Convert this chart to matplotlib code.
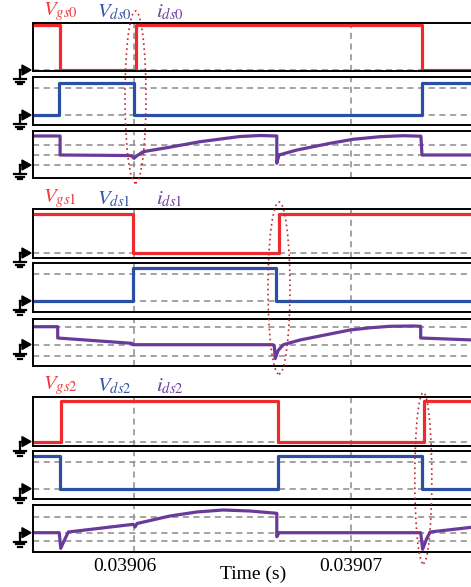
import matplotlib
matplotlib.use('Agg')
import matplotlib.pyplot as plt
import matplotlib.transforms as mtransforms
from matplotlib.patches import Ellipse, Polygon
from matplotlib.lines import Line2D

plt.rcParams['font.family'] = ['Liberation Serif', 'DejaVu Serif']
plt.rcParams['mathtext.fontset'] = 'stix'

# time axis in microseconds after 0.03906 s
xticks = [0, 10]
xtick_labels = ['0.03906', '0.03907']
t_start, t_end = -4.66, 15.9

# gate / drain-source voltages (steps-post, normalised)
vgs0_t = [-4.66, -3.41, 0.09, 13.28, 15.9]
vgs0_v = [1, 0, 1, 0, 0]
vds0_t = [-4.66, -3.45, 0.01, 13.28, 15.9]
vds0_v = [0, 1.2, 0, 1.2, 1.2]

vgs1_t = [-4.66, -0.03, 6.70, 15.9]
vgs1_v = [1, 0, 1, 1]
vds1_t = [-4.66, -0.06, 6.55, 15.9]
vds1_v = [0, 1.2, 0, 0]

vgs2_t = [-4.66, -3.37, 6.63, 13.38, 15.9]
vgs2_v = [0, 1, 0, 1, 1]
vds2_t = [-4.66, -3.41, 6.63, 13.30, 15.9]
vds2_v = [1.2, 0, 1.2, 0, 0]

# drain currents
ids0_t = [-4.66, -3.41, -3.41, -0.28, -0.09, 0.00, 0.09, 0.42, 1.52, 3.05, 4.89,
          5.82, 6.59, 6.59, 6.69, 7.52, 9.05, 10.11, 11.35, 12.41, 13.24, 13.29, 15.9]
ids0_v = [2.9, 2.9, 1.0, 0.95, 0.9, 0.67, 0.85, 1.33, 1.73, 2.33, 2.85,
          2.95, 2.9, 0.17, 1.0, 1.5, 2.17, 2.57, 2.83, 2.93, 2.88, 1.0, 1.0]

ids1_t = [-4.66, -3.52, -3.52, -0.11, -0.05, 6.40, 6.47, 6.52, 6.65, 6.89, 7.66,
          8.81, 9.97, 10.89, 11.81, 12.88, 13.23, 13.23, 15.9]
ids1_v = [1.78, 1.78, 0.65, 0.12, -0.02, -0.02, -0.1, -1.4, -0.6, -0.02, 0.45,
          0.95, 1.45, 1.67, 1.82, 1.85, 1.82, 0.65, 0.43]

ids2_t = [-4.66, -3.45, -3.38, -3.23, -3.03, -0.03, 0.05, 0.14, 1.66, 2.89, 4.11,
          5.35, 6.59, 6.59, 6.69, 13.23, 13.32, 13.48, 13.66, 15.9]
ids2_v = [0, 0, -1.56, -0.83, 0.07, 0.84, 0.57, 0.92, 1.67, 2.07, 2.27,
          2.17, 1.94, -0.4, 0, 0, -1.66, -0.73, 0.07, 0.62]

RED = '#EE2A2E'
BLUE = '#2B4FA5'
PURPLE = '#6A3A9B'

W, H = 471, 587
fig = plt.figure(figsize=(W / 100, H / 100), dpi=100)

x_left = 33
x_right = 478

# (top px, bottom px, t, v, style, color, ylim, grid levels)
panels = [
    (23, 71, vgs0_t, vgs0_v, 'steps-post', RED, (-0.022, 1.044), [0]),
    (77, 125, vds0_t, vds0_v, 'steps-post', BLUE, (-0.37, 1.41), [0, 1]),
    (131, 178.3, ids0_t, ids0_v, 'default', PURPLE, (-1.33, 3.4), [0, 1, 2]),
    (209, 258, vgs1_t, vgs1_v, 'steps-post', RED, (-0.128, 1.128), [0]),
    (263, 312, vds1_t, vds1_v, 'steps-post', BLUE, (-0.41, 1.40), [0, 1]),
    (318.7, 365.7, ids1_t, ids1_v, 'default', PURPLE, (-2.12, 2.58), [1.72, 0, -1.12]),
    (397, 446, vgs2_t, vgs2_v, 'steps-post', RED, (-0.11, 1.11), [0]),
    (451, 499, vds2_t, vds2_v, 'steps-post', BLUE, (-0.38, 1.39), [0, 1]),
    (505.3, 552.3, ids2_t, ids2_v, 'default', PURPLE, (-1.96, 2.74), [1.6, 0, -0.8]),
]

xlim_right = (x_right - 134) / 21.67

axes = []
for top, bot, t, v, ds, col, ylim, grid in panels:
    ax = fig.add_axes([x_left / W, 1 - bot / H, (x_right - x_left) / W, (bot - top) / H])
    ax.plot(t, v, drawstyle=ds, color=col, lw=2.3)
    ax.set_xlim(t_start, xlim_right)
    ax.set_ylim(*ylim)
    for g in grid:
        ax.axhline(g, color='#8a8a8a', lw=1.1, ls=(0, (4, 3)), zorder=0)
    for xt in xticks:
        ax.axvline(xt, color='#8a8a8a', lw=1.1, ls=(0, (4, 3)), zorder=0)
    ax.set_yticks([])
    ax.set_xticks([])
    for s in ax.spines.values():
        s.set_linewidth(1.4)
    axes.append(ax)

# bottom time axis labels
ax_b = axes[-1]
ax_b.set_xticks(xticks)
ax_b.set_xticklabels(xtick_labels, fontsize=14)
ax_b.tick_params(axis='x', length=0, pad=4)
shift = mtransforms.ScaledTranslation(-9 / 100, 0, fig.dpi_scale_trans)
lbl0 = ax_b.get_xticklabels()[0]
lbl0.set_transform(lbl0.get_transform() + shift)
fig.text(253 / W, 1 - 574 / H, 'Time (s)', fontsize=14, ha='center', va='center')

# signal names above each group
names = [('0', 12), ('1', 199), ('2', 386)]
for idx, y in names:
    fig.text(43 / W, 1 - y / H, r'$V_{gs%s}$' % idx, color='#EE3A3D', fontsize=15, va='center')
    fig.text(97 / W, 1 - y / H, r'$V_{ds%s}$' % idx, color='#3556A8', fontsize=15, va='center')
    fig.text(156 / W, 1 - y / H, r'$i_{ds%s}$' % idx, color='#6E3E9E', fontsize=15, va='center')

# ground markers at the zero level of every panel
for ax in axes:
    x0, y0 = ax.transData.transform((t_start, 0))
    def P(dx, dy):
        return (x0 + dx, y0 - dy)
    tri = Polygon([P(-2, 0), P(-11, -5), P(-11, 5)], closed=True,
                  color='black', transform=mtransforms.IdentityTransform())
    fig.add_artist(tri)
    segs = [[P(-13, 0), P(-13, 9)], [P(-13, 0), P(-10, 0)],
            [P(-19, 9), P(-7, 9)], [P(-17, 11.5), P(-9, 11.5)], [P(-15, 14), P(-11, 14)]]
    for a, b in segs:
        fig.add_artist(Line2D([a[0], b[0]], [a[1], b[1]], color='black', lw=1.6,
                              transform=mtransforms.IdentityTransform()))

# dotted ellipses marking the switching instants
ellipses = [(135.5, 97, 21, 172), (279, 288, 22, 172), (423.3, 478, 17, 171)]
for cx, cy, w, h in ellipses:
    fig.add_artist(Ellipse((cx / W, 1 - cy / H), w / W, h / H, fill=False,
                           ec='#C0272D', lw=1.2, ls=(0, (1, 2)),
                           transform=fig.transFigure))

plt.savefig('out.png', dpi=100, facecolor='white')
plt.close()
